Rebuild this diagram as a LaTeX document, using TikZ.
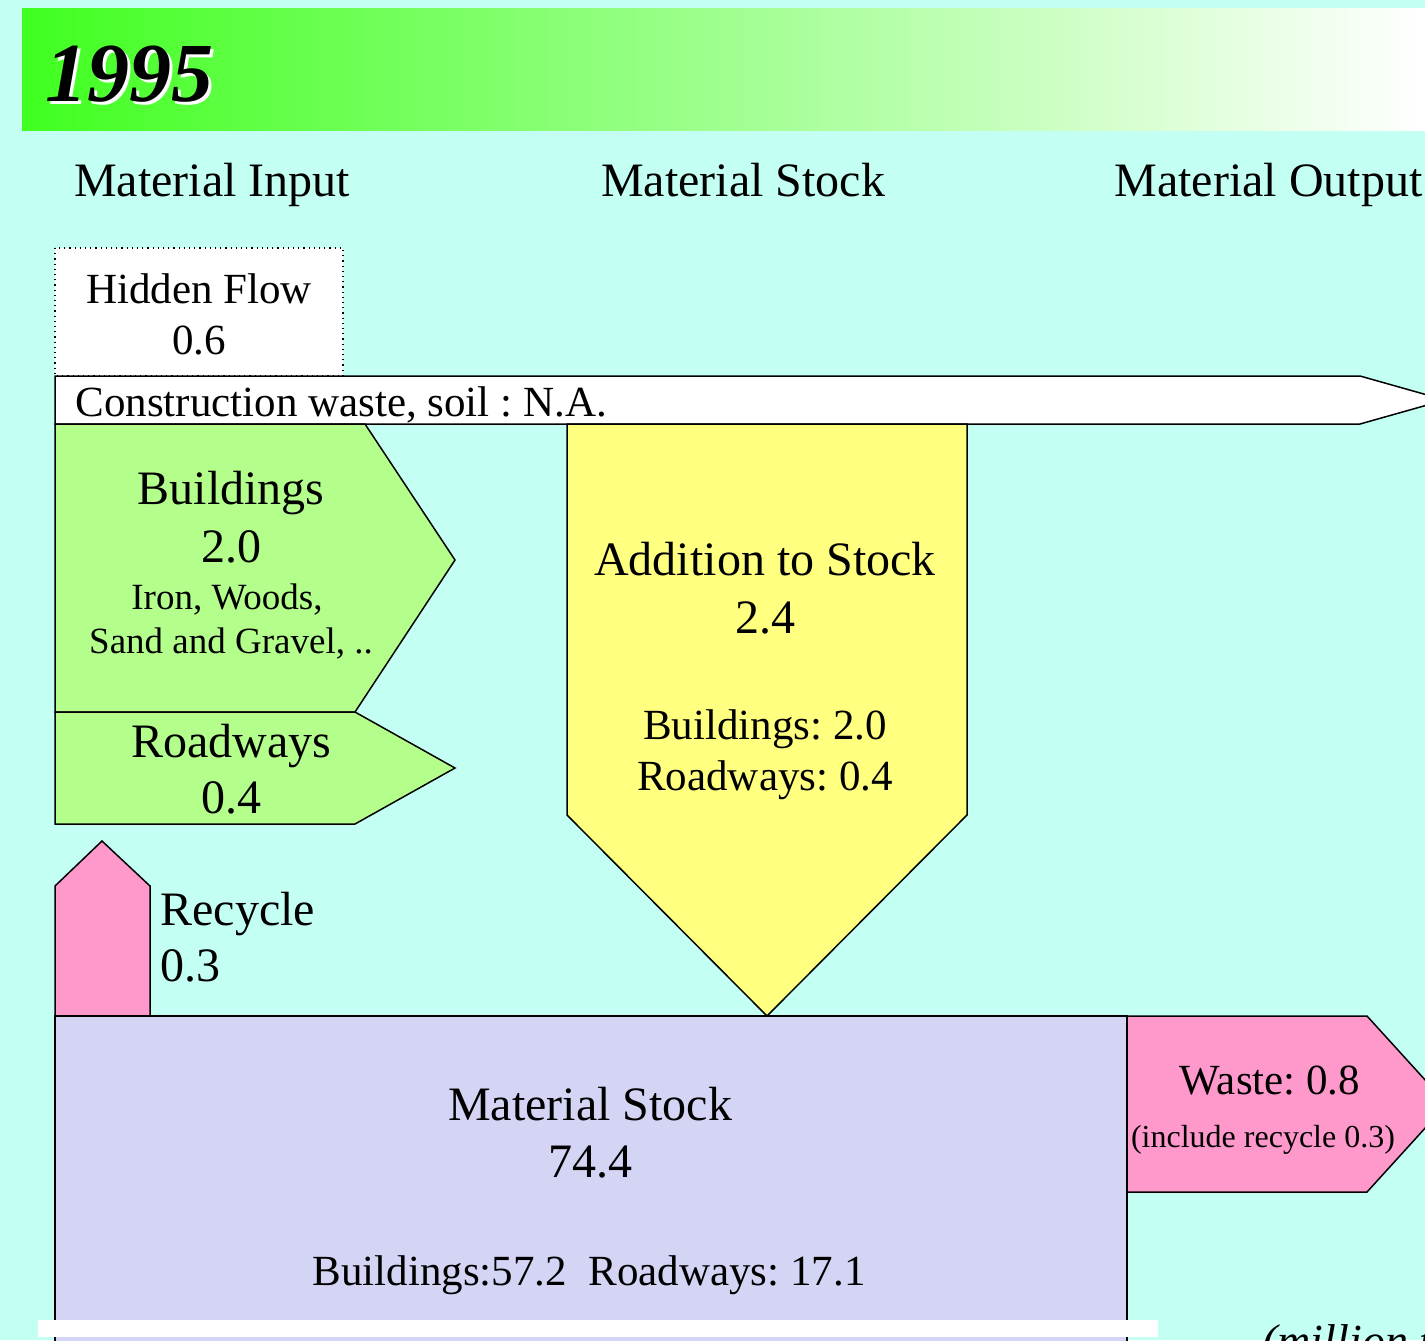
\documentclass[tikz,border=0pt]{standalone}
\usepackage{fontspec}
\setmainfont{Liberation Serif}
\frenchspacing
\definecolor{bgc}{RGB}{196,255,244}
\definecolor{titlegreen}{RGB}{64,255,32}
\definecolor{flowgreen}{RGB}{180,255,140}
\definecolor{flowyellow}{RGB}{255,255,128}
\definecolor{flowpink}{RGB}{255,153,204}
\definecolor{stocklav}{RGB}{212,212,245}
\tikzset{
  shp/.style={draw=black,line width=0.75pt,line join=miter},
  big/.style={font=\fontsize{24}{28}\selectfont,inner sep=0pt,anchor=base},
  mid/.style={font=\fontsize{21.5}{25}\selectfont,inner sep=0pt,anchor=base},
  sml/.style={font=\fontsize{18.5}{22}\selectfont,inner sep=0pt,anchor=base},
  tiny/.style={font=\fontsize{16}{19}\selectfont,inner sep=0pt,anchor=base},
}
\begin{document}
\begin{tikzpicture}[x=0.5pt,y=-0.5pt]
\useasboundingbox (0,0) rectangle (1425,1340);
\clip (0,0) rectangle (1425,1340);
\fill[bgc] (0,0) rectangle (1425,1340);
% title banner
\shade[left color=titlegreen,right color=white] (22,8) rectangle (1425,130);
\node[anchor=base west,inner sep=0pt,white,font=\fontsize{42}{48}\selectfont\bfseries\itshape] at (48,104) {1995};
\node (title) [anchor=base west,inner sep=0pt,font=\fontsize{42}{48}\selectfont\bfseries\itshape] at (45,101) {1995};
% headers
\node (hin) [big] at (212,196) {Material Input};
\node (hst) [big] at (743,196) {Material Stock};
\node (hout) [big,anchor=base west] at (1114,196) {Material Output};
% hidden flow
\filldraw[fill=white,draw=black,line width=0.6pt,dotted] (55,248) rectangle (343,376);
\node (hf1) [mid] at (199,303) {Hidden Flow};
\node (hf2) [mid] at (199,354) {0.6};
% construction waste arrow
\filldraw[shp,fill=white] (55,376) -- (1360,376) -- (1445,400) -- (1360,424) -- (55,424) -- cycle;
\node (cw) [mid,anchor=base west] at (75,416) {Construction waste, soil : N.A.};
% buildings
\filldraw[shp,fill=flowgreen] (55,424) -- (365,424) -- (455,560) -- (355,712) -- (55,712) -- cycle;
\node (b1) [big] at (231,504) {Buildings};
\node (b2) [big] at (231,562) {2.0};
\node (b3) [sml] at (227,609) {Iron, Woods,};
\node (b4) [sml] at (231,653) {Sand and Gravel, ..};
% roadways
\filldraw[shp,fill=flowgreen] (55,712) -- (355,712) -- (455,768) -- (355,824) -- (55,824) -- cycle;
\node (r1) [big] at (231,757) {Roadways};
\node (r2) [big] at (231,813) {0.4};
% addition to stock
\filldraw[shp,fill=flowyellow] (567,424) -- (967,424) -- (967,815) -- (767,1016) -- (567,815) -- cycle;
\node (a1) [big] at (765,575) {Addition to Stock};
\node (a2) [big] at (765,633) {2.4};
\node (a3) [mid] at (765,739) {Buildings: 2.0};
\node (a4) [mid] at (765,790) {Roadways: 0.4};
% recycle
\filldraw[shp,fill=flowpink] (55,1016) -- (55,886) -- (102,841) -- (150,886) -- (150,1016) -- cycle;
\node (rc1) [big,anchor=base west] at (160,925) {Recycle};
\node (rc2) [big,anchor=base west] at (160,981) {0.3};
% material stock
\filldraw[shp,fill=stocklav] (55,1360) -- (55,1016) -- (1127,1016) -- (1127,1360);
\node (m1) [big] at (590,1120) {Material Stock};
\node (m2) [big] at (590,1177) {74.4};
\node (m3) [mid] at (589,1285) {Buildings:57.2\enspace Roadways: 17.1};
% waste
\filldraw[shp,fill=flowpink] (1127,1016) -- (1367,1016) -- (1447,1104) -- (1367,1192) -- (1127,1192) -- cycle;
\node (w1) [mid] at (1270,1094) {Waste: 0.8};
\node (w2) [tiny] at (1263,1147) {(include recycle 0.3)};
% bottom
\fill[white] (38,1320) rectangle (1158,1337);
\node (unit) [big,anchor=base west,font=\fontsize{23}{27}\selectfont\itshape] at (1262,1356) {(million tons)};
\end{tikzpicture}
\end{document}
